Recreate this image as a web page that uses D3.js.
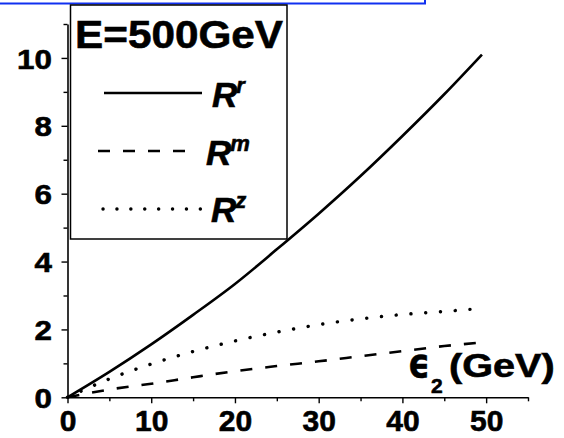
<!DOCTYPE html>
<html>
<head>
<meta charset="utf-8">
<script src="https://cdn.jsdelivr.net/npm/d3@7"></script>
<style>
  body { margin: 0; background: #fff; }
  svg { display: block; font-family: "Liberation Sans", Arial, sans-serif; font-weight: bold; }
  .heavy { stroke: #000; stroke-width: 0.6px; }
</style>
</head>
<body>
<svg id="chart" width="564" height="438"></svg>
<script>
// energy of the second particle (GeV) for each curve
const epsR = [0, 5, 10, 15, 20, 25, 30, 35, 40, 45, 49.5];
const epsM = [0, 5, 10, 15, 20, 25, 30, 35, 40, 45, 49.7];
const epsZ = [0, 5, 10, 15, 20, 25, 30, 35, 40, 45, 48.5];

// ratios R^r, R^m, R^z
const valR = [0, 0.75, 1.56, 2.43, 3.34, 4.36, 5.41, 6.52, 7.70, 8.93, 10.1];
const valM = [0, 0.23, 0.40, 0.59, 0.77, 0.92, 1.06, 1.21, 1.36, 1.51, 1.62];
const valZ = [0, 0.54, 0.98, 1.35, 1.66, 1.92, 2.14, 2.31, 2.44, 2.53, 2.6];

const xTicks = d3.range(0, 56, 5);
const yTicks = d3.range(0, 12, 1);

const svg = d3.select('#chart');

const x = d3.scaleLinear().domain([0, 55]).range([67.5, 528]);
const y = d3.scaleLinear().domain([0, 11]).range([397.3, 24]);

// blue frame edge at the top (cropped)
svg.append('rect')
  .attr('x', -5).attr('y', -10)
  .attr('width', 430).attr('height', 13.5)
  .attr('fill', 'none')
  .attr('stroke', '#1030f0')
  .attr('stroke-width', 2);

// axes
const xAxis = svg.append('g')
  .attr('transform', `translate(0, ${y(0)})`)
  .call(d3.axisBottom(x).tickValues(xTicks).tickSize(6).tickSizeOuter(0)
    .tickFormat(d => d % 10 === 0 ? d : ''));

const yAxis = svg.append('g')
  .attr('transform', `translate(${x(0)}, 0)`)
  .call(d3.axisLeft(y).tickValues(yTicks).tickSize(6).tickSizeOuter(0)
    .tickFormat(d => d % 2 === 0 ? d : ''));

[xAxis, yAxis].forEach(ax => {
  ax.select('.domain').attr('stroke', '#000').attr('stroke-width', 1.6);
  ax.selectAll('.tick line').attr('stroke', '#000').attr('stroke-width', 1.4);
});
xAxis.selectAll('.tick line').attr('y2', d => d % 10 === 0 ? 6 : 4);
yAxis.selectAll('.tick line').attr('x2', d => d % 2 === 0 ? -6 : -4);

xAxis.selectAll('.tick text')
  .attr('class', 'heavy')
  .attr('y', 12)
  .attr('dy', '0.71em')
  .style('font-size', '30px')
  .style('font-family', '"Liberation Sans", Arial, sans-serif')
  .style('font-weight', 'bold')
  .attr('fill', '#000');

yAxis.selectAll('.tick text')
  .attr('class', 'heavy')
  .attr('x', -14)
  .attr('dy', '0.36em')
  .attr('transform', 'scale(1.12,1)')
  .style('font-size', '28px')
  .style('font-family', '"Liberation Sans", Arial, sans-serif')
  .style('font-weight', 'bold')
  .attr('fill', '#000');

// curves
const line = d3.line().curve(d3.curveMonotoneX);
const series = [
  { xs: epsR, ys: valR, dash: null, cap: 'butt', w: 2.6 },
  { xs: epsM, ys: valM, dash: '12,13', cap: 'butt', w: 2.6 },
  { xs: epsZ, ys: valZ, dash: '0.1,14.7', cap: 'round', w: 3.4 }
];

series.forEach(s => {
  svg.append('path')
    .attr('d', line(s.xs.map((e, i) => [x(e), y(s.ys[i])])))
    .attr('fill', 'none')
    .attr('stroke', '#000')
    .attr('stroke-width', s.w)
    .attr('stroke-linecap', s.cap)
    .attr('stroke-dasharray', s.dash);
});

// axis label: epsilon, subscript 2, (GeV)
svg.append('text')
  .attr('class', 'heavy')
  .attr('transform', 'translate(408,377) scale(0.85,1)')
  .style('font-family', '"DejaVu Sans", sans-serif')
  .style('font-size', '40px')
  .text('\u03F5');
svg.append('text')
  .attr('class', 'heavy')
  .attr('x', 431).attr('y', 393)
  .style('font-size', '21px')
  .text('2');
svg.append('text')
  .attr('class', 'heavy')
  .attr('transform', 'translate(449,377) scale(1.2,1)')
  .style('font-size', '33px')
  .text('(GeV)');

// legend
const lg = svg.append('g');
lg.append('rect')
  .attr('x', 70.5).attr('y', 5)
  .attr('width', 216.5).attr('height', 234)
  .attr('fill', '#fff')
  .attr('stroke', '#000')
  .attr('stroke-width', 1.5);

lg.append('text')
  .attr('class', 'heavy')
  .attr('x', 75).attr('y', 48)
  .attr('textLength', 208)
  .attr('lengthAdjust', 'spacingAndGlyphs')
  .style('font-size', '39px')
  .text('E=500GeV');

const legendRows = [
  { y: 93, x1: 104, x2: 202, dash: null, cap: 'butt', w: 2.6, tx: 212, base: 107, sup: 'r' },
  { y: 151, x1: 98, x2: 190, dash: '12,13', cap: 'butt', w: 2.6, tx: 206, base: 165, sup: 'm' },
  { y: 209, x1: 103, x2: 202, dash: '0.1,13.8', cap: 'round', w: 3.4, tx: 211, base: 222, sup: 'z' }
];

legendRows.forEach(r => {
  lg.append('line')
    .attr('x1', r.x1).attr('x2', r.x2)
    .attr('y1', r.y).attr('y2', r.y)
    .attr('stroke', '#000')
    .attr('stroke-width', r.w)
    .attr('stroke-linecap', r.cap)
    .attr('stroke-dasharray', r.dash);
  const t = lg.append('text')
    .attr('class', 'heavy')
    .attr('x', r.tx).attr('y', r.base)
    .style('font-size', '35px')
    .style('font-style', 'italic');
  t.append('tspan').text('R');
  t.append('tspan')
    .attr('dy', -14).attr('dx', -1)
    .style('font-size', '22px')
    .text(r.sup);
});
</script>
</body>
</html>
